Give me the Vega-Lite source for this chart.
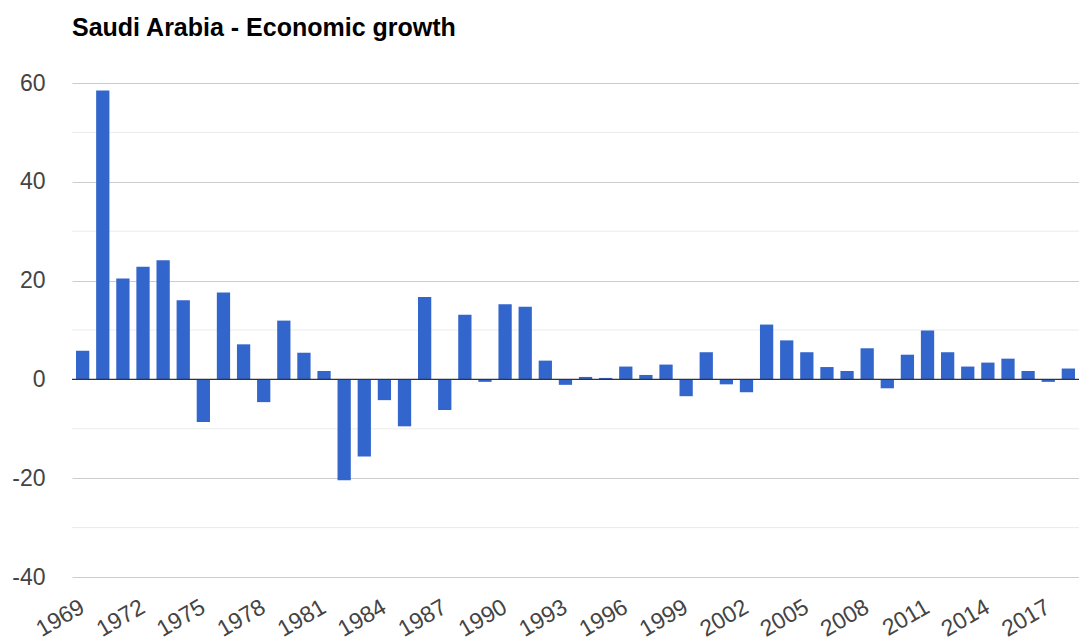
{
  "$schema": "https://vega.github.io/schema/vega-lite/v6.json",
  "autosize": {"type": "none"},
  "padding": {"left": 72, "top": 83, "right": 0, "bottom": 67},
  "width": 1007,
  "height": 494,
  "background": "white",
  "title": {
    "text": "Saudi Arabia - Economic growth",
    "anchor": "start",
    "frame": "group",
    "font": "Liberation Sans",
    "fontSize": 25,
    "fontWeight": "bold",
    "color": "#000000",
    "offset": 31
  },
  "datasets": {
    "growth": [
      {"year": 1969, "value": 5.8},
      {"year": 1970, "value": 58.5},
      {"year": 1971, "value": 20.4},
      {"year": 1972, "value": 22.8},
      {"year": 1973, "value": 24.1},
      {"year": 1974, "value": 16.0},
      {"year": 1975, "value": -8.6},
      {"year": 1976, "value": 17.6},
      {"year": 1977, "value": 7.1},
      {"year": 1978, "value": -4.6},
      {"year": 1979, "value": 11.9},
      {"year": 1980, "value": 5.4},
      {"year": 1981, "value": 1.7},
      {"year": 1982, "value": -20.4},
      {"year": 1983, "value": -15.6},
      {"year": 1984, "value": -4.2},
      {"year": 1985, "value": -9.5},
      {"year": 1986, "value": 16.7},
      {"year": 1987, "value": -6.2},
      {"year": 1988, "value": 13.1},
      {"year": 1989, "value": -0.5},
      {"year": 1990, "value": 15.2},
      {"year": 1991, "value": 14.7},
      {"year": 1992, "value": 3.8},
      {"year": 1993, "value": -1.1},
      {"year": 1994, "value": 0.5},
      {"year": 1995, "value": 0.3},
      {"year": 1996, "value": 2.6},
      {"year": 1997, "value": 0.9},
      {"year": 1998, "value": 3.0},
      {"year": 1999, "value": -3.4},
      {"year": 2000, "value": 5.5},
      {"year": 2001, "value": -1.0},
      {"year": 2002, "value": -2.6},
      {"year": 2003, "value": 11.1},
      {"year": 2004, "value": 7.9},
      {"year": 2005, "value": 5.5},
      {"year": 2006, "value": 2.5},
      {"year": 2007, "value": 1.7},
      {"year": 2008, "value": 6.3},
      {"year": 2009, "value": -1.8},
      {"year": 2010, "value": 5.0},
      {"year": 2011, "value": 9.9},
      {"year": 2012, "value": 5.5},
      {"year": 2013, "value": 2.6},
      {"year": 2014, "value": 3.4},
      {"year": 2015, "value": 4.2},
      {"year": 2016, "value": 1.7},
      {"year": 2017, "value": -0.5},
      {"year": 2018, "value": 2.2}
    ],
    "minorGrid": [
      {"value": -30},
      {"value": -10},
      {"value": 10},
      {"value": 30},
      {"value": 50}
    ],
    "baseline": [
      {"value": 0}
    ]
  },
  "layer": [
    {
      "data": {"name": "minorGrid"},
      "mark": {"type": "rule", "color": "#ebebeb", "strokeWidth": 1},
      "encoding": {
        "y": {
          "field": "value",
          "type": "quantitative",
          "scale": {"domain": [-40, 60], "nice": false, "zero": false},
          "axis": {
            "values": [-40, -20, 0, 20, 40, 60],
            "title": null,
            "domain": false,
            "ticks": false,
            "tickSize": 0,
            "grid": true,
            "gridColor": "#cccccc",
            "gridWidth": 1,
            "labelPadding": 27,
            "labelFont": "Liberation Sans",
            "labelFontSize": 23,
            "labelColor": "#444444",
            "labelExpr": "replace(datum.label, '\u2212', '-')"
          }
        }
      }
    },
    {
      "data": {"name": "growth"},
      "mark": {"type": "bar", "color": "#3366cc"},
      "encoding": {
        "x": {
          "field": "year",
          "type": "ordinal",
          "scale": {"paddingInner": 0.34, "paddingOuter": 0.2},
          "axis": {
            "values": [1969, 1972, 1975, 1978, 1981, 1984, 1987, 1990, 1993, 1996, 1999, 2002, 2005, 2008, 2011, 2014, 2017],
            "title": null,
            "domain": false,
            "ticks": false,
            "tickSize": 0,
            "grid": false,
            "labelAngle": -30,
            "labelAlign": "right",
            "labelBaseline": "middle",
            "labelPadding": 28,
            "labelFont": "Liberation Sans",
            "labelFontSize": 23,
            "labelColor": "#444444",
            "labelOverlap": false
          }
        },
        "y": {
          "field": "value",
          "type": "quantitative",
          "scale": {"domain": [-40, 60], "nice": false, "zero": false},
          "axis": {
            "values": [-40, -20, 0, 20, 40, 60],
            "title": null,
            "domain": false,
            "ticks": false,
            "tickSize": 0,
            "grid": true,
            "gridColor": "#cccccc",
            "gridWidth": 1,
            "labelPadding": 27,
            "labelFont": "Liberation Sans",
            "labelFontSize": 23,
            "labelColor": "#444444",
            "labelExpr": "replace(datum.label, '\u2212', '-')"
          }
        }
      }
    },
    {
      "data": {"name": "baseline"},
      "mark": {"type": "rule", "color": "#333333", "strokeWidth": 1.3},
      "encoding": {
        "y": {
          "field": "value",
          "type": "quantitative",
          "scale": {"domain": [-40, 60], "nice": false, "zero": false},
          "axis": {
            "values": [-40, -20, 0, 20, 40, 60],
            "title": null,
            "domain": false,
            "ticks": false,
            "tickSize": 0,
            "grid": true,
            "gridColor": "#cccccc",
            "gridWidth": 1,
            "labelPadding": 27,
            "labelFont": "Liberation Sans",
            "labelFontSize": 23,
            "labelColor": "#444444",
            "labelExpr": "replace(datum.label, '\u2212', '-')"
          }
        }
      }
    }
  ],
  "config": {
    "view": {"stroke": null}
  }
}
